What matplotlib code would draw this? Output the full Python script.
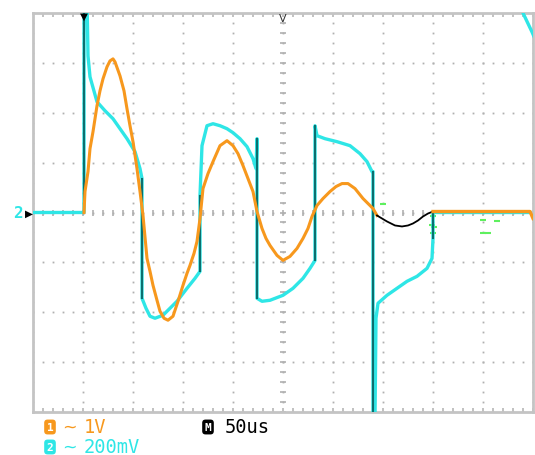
import numpy as np
import matplotlib
matplotlib.use("Agg")
import matplotlib.pyplot as plt

# time in us from left edge of screen (50 us/div)
ch2_t = [0, 51, 51, 54, 55, 57, 64, 72, 80, 87, 94, 102, 107, 109, 109, 113, 117, 122, 130,
         137, 144, 154, 162, 167, 167, 169, 174, 180, 187, 194, 200, 207, 214, 220, 223, 224,
         224, 229, 237, 250, 260, 270, 277, 282, 282, 284, 292, 304, 317, 327, 334, 339, 340,
         340, 342, 343, 345, 354, 364, 374, 384, 394, 399, 400, 400, 497,
         np.nan, 489, 490, 499, 502]
# channel 2 in mV (200 mV/div)
ch2_mv = [0, 0, 856, 856, 628, 544, 444, 408, 376, 336, 296, 244, 176, 136, -344, -384, -416,
          -424, -412, -384, -356, -304, -264, -236, 68, 268, 348, 356, 348, 336, 320, 296, 264,
          216, 176, 296, -344, -356, -352, -332, -304, -264, -224, -192, 348, 308, 296, 284,
          268, 236, 204, 164, 164, -824, -824, -424, -364, -332, -304, -276, -256, -224, -184,
          -104, 0, 0,
          np.nan, 856, 800, 724, 696]

ch1_t = [51, 52, 55, 57, 60, 64, 67, 70, 74, 77, 80, 82, 87, 91, 94, 97, 100, 104, 107, 110,
         114, 117, 120, 124, 127, 131, 135, 140, 145, 150, 154, 157, 161, 164, 167, 170, 175,
         180, 187, 194, 200, 205, 210, 215, 220, 224, 229, 233, 237, 244, 250, 257, 264, 270,
         275, 279, 284, 290, 297, 303, 309, 315, 322, 330, 336, 340, 344]
# channel 1 in V (1 V/div)
ch1_v = [0.00, 0.42, 0.82, 1.28, 1.62, 2.14, 2.44, 2.68, 2.92, 3.04, 3.08, 3.02, 2.74, 2.44,
         2.08, 1.74, 1.42, 0.88, 0.42, -0.06, -0.92, -1.18, -1.46, -1.76, -1.98, -2.12, -2.16,
         -2.08, -1.78, -1.46, -1.22, -1.06, -0.82, -0.58, -0.12, 0.48, 0.78, 1.02, 1.34, 1.44,
         1.34, 1.18, 0.94, 0.68, 0.42, 0.02, -0.32, -0.52, -0.66, -0.86, -0.96, -0.88, -0.72,
         -0.52, -0.32, -0.08, 0.14, 0.28, 0.42, 0.52, 0.58, 0.58, 0.48, 0.28, 0.16, 0.08, -0.06]

ref_t = [344, 349, 354, 362, 369, 375, 380, 385, 390, 395, 400]
ref_v = [-0.06, -0.12, -0.18, -0.26, -0.28, -0.26, -0.22, -0.16, -0.08, -0.02, 0.02]

tail_t = [400, 497, 500]
tail_v = [0.02, 0.02, -0.12]

green_t = [350, 399, 401, 400, 400, 450, 464, 450, 455]
green_mv = [36, -52, -60, -84, -16, -32, -36, -84, -84]

CYAN = "#2ee6e6"
ORANGE = "#f7981d"
TEAL = "#0b6f6f"
GRID = "#b0b0b0"

fig = plt.figure(figsize=(5.35, 4.56), dpi=100)
ax = fig.add_axes([33 / 535, 43 / 456, 500 / 535, 399 / 456])
ax.set_xlim(0, 500)
ax.set_ylim(-800, 800)
ax.set_xticks([])
ax.set_yticks([])
for sp in ax.spines.values():
    sp.set_color("#c4c4c4")
    sp.set_linewidth(2)

# graticule dots
for gx in range(0, 501, 50):
    ys = np.arange(-800, 801, 40)
    ax.plot([gx] * len(ys), ys, ls="none", marker="s", ms=1.3, mec="none", mfc=GRID, zorder=1)
for gy in range(-800, 801, 200):
    xs = np.arange(0, 501, 10)
    ax.plot(xs, [gy] * len(xs), ls="none", marker="s", ms=1.3, mec="none", mfc=GRID, zorder=1)
# centre ticks
ys = np.arange(-800, 801, 40)
ax.plot([250] * len(ys), ys, ls="none", marker="_", ms=5, mew=1.2, color=GRID, zorder=1)
xs = np.arange(0, 501, 10)
ax.plot(xs, [0] * len(xs), ls="none", marker="|", ms=5, mew=1.2, color=GRID, zorder=1)
# border ticks
ax.plot(xs, [-800] * len(xs), ls="none", marker="|", ms=6, mew=1.1, color=GRID, zorder=1)
ax.plot(xs, [800] * len(xs), ls="none", marker="|", ms=6, mew=1.1, color=GRID, zorder=1)

# channel 2
ax.plot(ch2_t, ch2_mv, color=CYAN, lw=2.4, zorder=3, solid_joinstyle="round")
for i in range(len(ch2_t) - 1):
    if ch2_t[i] == ch2_t[i + 1]:
        ax.plot([ch2_t[i], ch2_t[i + 1]], [ch2_mv[i], ch2_mv[i + 1]], color=TEAL, lw=1.5, zorder=4)

ax.plot(green_t, green_mv, ls="none", marker="_", ms=4, mew=1.5, color="#5ef05e", zorder=2)

# channel 1 on its own scale
ax1 = ax.twinx()
ax1.set_ylim(-4, 4)
ax1.set_yticks([])
ax1.axis("off")
ax1.plot(ch1_t, ch1_v, color=ORANGE, lw=2.2, zorder=5)
ax1.plot(ref_t, ref_v, color="black", lw=1.3, zorder=5)
ax1.plot(tail_t, tail_v, color=ORANGE, lw=2.4, zorder=5)

# markers
fig.text(18 / 535, 1 - 214 / 456, "2", color=CYAN, fontsize=11.5, fontweight="bold",
         ha="center", va="center", family="DejaVu Sans Mono")
fig.text(29 / 535, 1 - 214 / 456, "\u25B6", color="black", fontsize=7.5, ha="center", va="center")
fig.text(84 / 535, 1 - 17 / 456, "\u25BC", color="black", fontsize=7.5, ha="center", va="center")
fig.text(283 / 535, 1 - 19 / 456, "V", color="#333333", fontsize=8, ha="center", va="center",
         family="DejaVu Sans")

# bottom labels
mono = "DejaVu Sans Mono"
badge = dict(boxstyle="round,pad=0.22,rounding_size=0.3", lw=0)
rows = [(428, "1", "1V", ORANGE), (448, "2", "200mV", CYAN)]
for y, num, label, col in rows:
    fig.text(50 / 535, 1 - y / 456, num, color="white", fontsize=8, fontweight="bold",
             ha="center", va="center", family=mono, bbox=dict(badge, fc=col))
    fig.text(69 / 535, 1 - y / 456, "~", color=col, fontsize=12.5,
             ha="center", va="center", family="DejaVu Sans")
    fig.text(84 / 535, 1 - y / 456, label, color=col, fontsize=13.5,
             ha="left", va="center", family=mono)
fig.text(208 / 535, 1 - 428 / 456, "M", color="white", fontsize=8, fontweight="bold",
         ha="center", va="center", family=mono, bbox=dict(badge, fc="black"))
fig.text(225 / 535, 1 - 428 / 456, "50us", color="black", fontsize=13.5,
         ha="left", va="center", family=mono)

fig.savefig("out.png", dpi=100)
